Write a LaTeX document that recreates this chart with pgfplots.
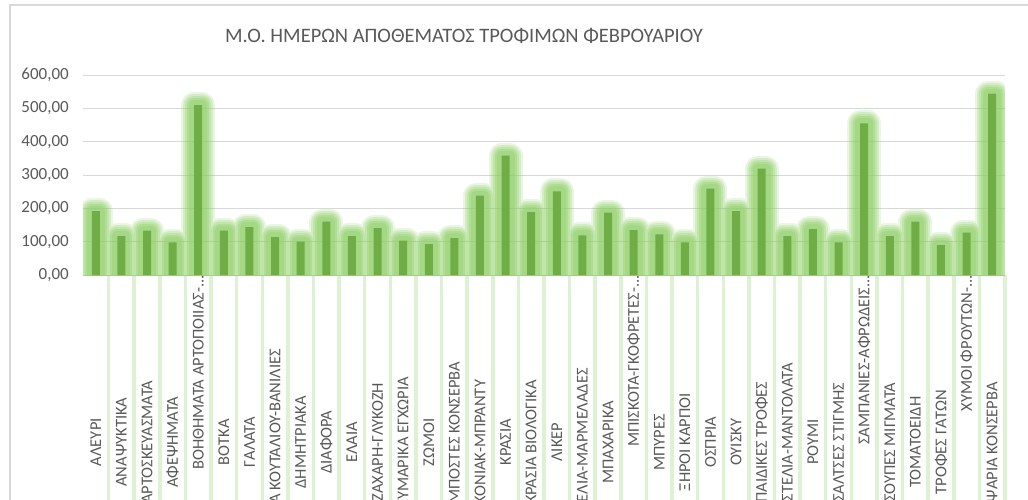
\documentclass[border=0pt]{standalone}
\usepackage{pgfplots}
\pgfplotsset{compat=1.18}
\usepackage{pgfplotstable}
\usepackage{fontspec}
\setmainfont{Carlito}
\definecolor{barc}{HTML}{70AD47}
\definecolor{glowc}{HTML}{92D06C}
\definecolor{gridc}{HTML}{D9D9D9}
\definecolor{txtc}{HTML}{595959}
\newcommand\C[1]{\makebox[334pt][c]{#1}}
\newcommand\T[1]{\makebox[334pt][r]{#1}}
\pgfplotstableread{
x v
0 192
1 117
2 133
3 98
4 510
5 133
6 144
7 114
8 100
9 160
10 117
11 141
12 103
13 93
14 111
15 238
16 358
17 189
18 251
19 119
20 187
21 135
22 122
23 98
24 259
25 192
26 319
27 117
28 138
29 98
30 455
31 117
32 160
33 90
34 127
35 544
}\datatable
\pgfplotsset{glow/.style={ybar, bar width=8pt, bar shift=0pt, draw=glowc, fill=none, line join=round, line width=#1}}
\begin{document}
\begin{tikzpicture}
\begin{axis}[
  at={(0pt,0pt)}, anchor=south west,
  scale only axis, width=922pt, height=200pt,
  xmin=-0.5, xmax=35.5, ymin=0, ymax=600,
  xtick={0,...,35},
  xticklabels={\C{ΑΛΕΥΡΙ},\C{ΑΝΑΨΥΚΤΙΚΑ},\C{ΑΡΤΟΣΚΕΥΑΣΜΑΤΑ},\C{ΑΦΕΨΗΜΑΤΑ},\T{ΒΟΗΘΗΜΑΤΑ ΑΡΤΟΠΟΙΙΑΣ-...},\C{ΒΟΤΚΑ},\C{ΓΑΛΑΤΑ},\C{ΓΛΥΚΑ ΚΟΥΤΑΛΙΟΥ-ΒΑΝΙΛΙΕΣ},\C{ΔΗΜΗΤΡΙΑΚΑ},\C{ΔΙΑΦΟΡΑ},\C{ΕΛΑΙΑ},\C{ΖΑΧΑΡΗ-ΓΛΥΚΟΖΗ},\C{ΖΥΜΑΡΙΚΑ ΕΓΧΩΡΙΑ},\C{ΖΩΜΟΙ},\C{ΚΟΜΠΟΣΤΕΣ ΚΟΝΣΕΡΒΑ},\C{ΚΟΝΙΑΚ-ΜΠΡΑΝΤΥ},\C{ΚΡΑΣΙΑ},\C{ΚΡΑΣΙΑ ΒΙΟΛΟΓΙΚΑ},\C{ΛΙΚΕΡ},\C{ΜΕΛΙΑ-ΜΑΡΜΕΛΑΔΕΣ},\C{ΜΠΑΧΑΡΙΚΑ},\T{ΜΠΙΣΚΟΤΑ-ΓΚΟΦΡΕΤΕΣ-...},\C{ΜΠΥΡΕΣ},\C{ΞΗΡΟΙ ΚΑΡΠΟΙ},\C{ΟΣΠΡΙΑ},\C{ΟΥΙΣΚΥ},\C{ΠΑΙΔΙΚΕΣ ΤΡΟΦΕΣ},\C{ΠΑΣΤΕΛΙΑ-ΜΑΝΤΟΛΑΤΑ},\C{ΡΟΥΜΙ},\C{ΣΑΛΤΣΕΣ ΣΤΙΓΜΗΣ},\T{ΣΑΜΠΑΝΙΕΣ-ΑΦΡΩΔΕΙΣ...},\C{ΣΟΥΠΕΣ ΜΙΓΜΑΤΑ},\C{ΤΟΜΑΤΟΕΙΔΗ},\C{ΤΡΟΦΕΣ ΓΑΤΩΝ},\T{ΧΥΜΟΙ ΦΡΟΥΤΩΝ-...},\C{ΨΑΡΙΑ ΚΟΝΣΕΡΒΑ}},
  ytick={0,100,...,600},
  ymajorgrids, grid style={gridc, line width=1pt},
  axis x line*=bottom, axis y line*=left,
  y axis line style={draw=none},
  x axis line style={gridc, line width=1pt, -},
  tick style={draw=none},
  extra x ticks={0.5,1.5,...,35.5},
  extra x tick labels={},
  extra x tick style={grid=none, major tick length=240pt, tick align=outside,
    tick style={draw=glowc, line width=3.5pt, draw opacity=0.3}},
  xticklabel style={rotate=90, anchor=east, inner sep=0pt, font=\fontsize{16.5}{16.5}\selectfont, text=txtc},
  yticklabel style={font=\fontsize{17}{17}\selectfont, text=txtc, inner sep=0pt, xshift=-14pt,
    /pgf/number format/.cd, fixed, fixed zerofill, precision=2, use comma, 1000 sep={}},
  /pgf/number format/assume math mode=true,
]
\addplot[glow=26pt, draw opacity=0.2] table[x=x, y=v] {\datatable};
\addplot[glow=22pt, draw opacity=0.25] table[x=x, y=v] {\datatable};
\addplot[glow=18pt, draw opacity=0.3] table[x=x, y=v] {\datatable};
\addplot[glow=14pt, draw opacity=0.35] table[x=x, y=v] {\datatable};
\addplot[glow=10pt, draw opacity=0.4] table[x=x, y=v] {\datatable};
\addplot[ybar, bar width=8pt, bar shift=0pt, draw=none, fill=barc] table[x=x, y=v] {\datatable};
\end{axis}
\node[font=\fontsize{20.5}{24}\selectfont, text=txtc] at (381pt,239pt) {Μ.Ο. ΗΜΕΡΩΝ ΑΠΟΘΕΜΑΤΟΣ ΤΡΟΦΙΜΩΝ ΦΕΒΡΟΥΑΡΙΟΥ};
\draw[gridc, line width=1.5pt] (-73pt,-240pt) -- (-73pt,270pt) -- (960pt,270pt);
\pgfresetboundingbox
\path[use as bounding box] (-83pt,-225pt) rectangle (945pt,275pt);
\end{tikzpicture}
\end{document}
